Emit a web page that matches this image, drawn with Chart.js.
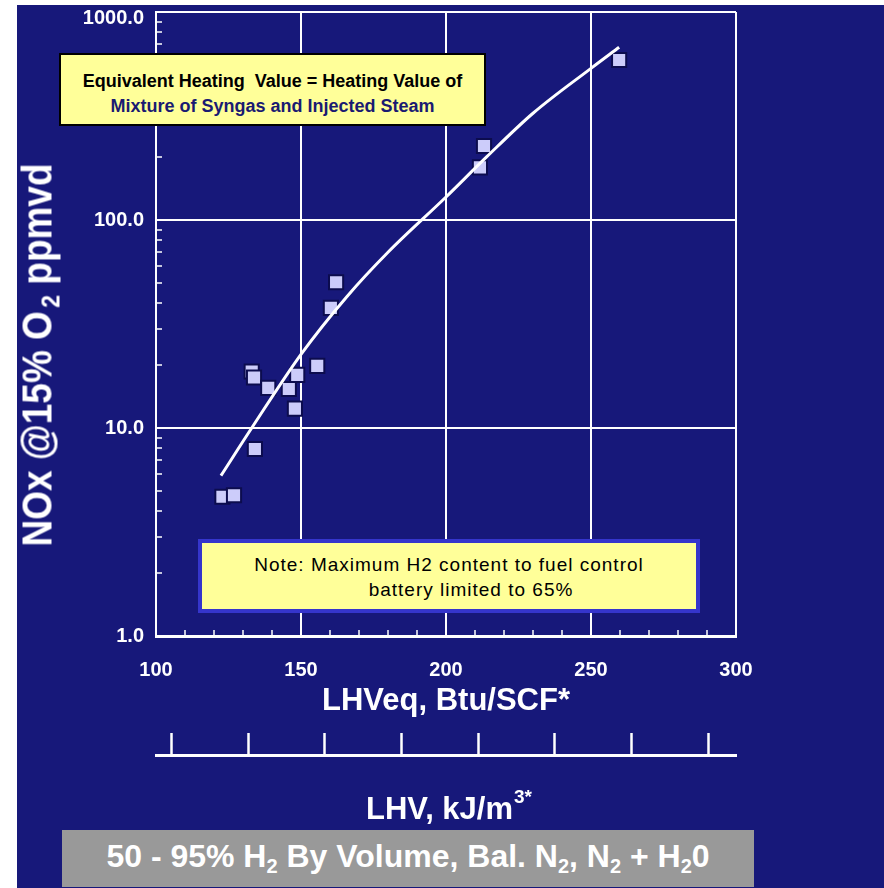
<!DOCTYPE html>
<html>
<head>
<meta charset="utf-8">
<script src="https://cdn.jsdelivr.net/npm/chart.js@4"></script>
<style>
body { margin: 0; background: #fff; font-family: "Liberation Sans", Arial, sans-serif; }
#page { position: relative; width: 884px; height: 888px; overflow: hidden; }
#bg { position: absolute; left: 17px; top: 5px; right: 0; bottom: 0; background: #17187a; }
#c { position: absolute; left: 0; top: 0; }
.box { position: absolute; box-sizing: border-box; text-align: center; white-space: nowrap; }
#box1 { left: 59px; top: 53px; width: 427px; height: 73px; background: #ffff99; border: 2px solid #000;
        font-weight: bold; font-size: 18px; line-height: 25px; padding-top: 14px; color: #000; }
#box1 .l2 { color: #1a1a72; }
#box2 { left: 198px; top: 539px; width: 502px; height: 74px; background: #ffff99; border: 4px solid #3535cc;
        font-size: 19px; letter-spacing: 1px; line-height: 25px; padding-top: 9px; color: #000; }
#box2 .l2 { position: relative; left: 22px; }
#ytitle { position: absolute; left: 44px; top: 355px; font-size: 42px; line-height: 42px; font-weight: bold;
          color: #fff; white-space: nowrap; transform: translate(-50%, -50%) rotate(-90deg) scaleX(0.88); }
#ytitle sub { font-size: 26px; vertical-align: -8px; margin-left: 4px; }
#x2title { position: absolute; left: 449px; top: 786px; font-size: 31px; line-height: 31px; font-weight: bold;
           color: #fff; white-space: nowrap; transform: translateX(-50%); }
#x2title sup { font-size: 19px; position: relative; top: -5px; margin-left: 1px; }
#banner { position: absolute; left: 62px; top: 830px; width: 692px; height: 57px; background: #999999;
          color: #fff; font-weight: bold; font-size: 32px; line-height: 53px; text-align: center; white-space: nowrap; }
#banner sub { font-size: 20px; vertical-align: -6px; }
</style>
</head>
<body>
<div id="page">
  <div id="bg"></div>
  <canvas id="c" width="884" height="888"></canvas>
  <div id="ytitle">NOx @15% O<sub>2</sub> ppmvd</div>
  <div class="box" id="box1">Equivalent Heating&nbsp; Value = Heating Value of<br><span class="l2">Mixture of Syngas and Injected Steam</span></div>
  <div class="box" id="box2">Note: Maximum H2 content to fuel control<br><span class="l2">battery limited to 65%</span></div>
  <div id="x2title">LHV, kJ/m<sup>3*</sup></div>
  <div id="banner">50 - 95% H<sub>2</sub> By Volume, Bal. N<sub>2</sub>, N<sub>2</sub> + H<sub>2</sub>0</div>
</div>
<script>
// measured points, LHVeq (Btu/SCF) vs NOx ppmvd
var lhvX = [122.9, 126.9, 134.1, 133.0, 133.8, 138.7, 145.8, 147.9, 148.7, 155.6, 160.3, 162.1, 211.7, 213.1, 259.7];
var noxY = [4.67, 4.75, 7.93, 18.7, 17.5, 15.6, 15.4, 12.4, 18.0, 19.9, 37.8, 50.2, 179, 227, 588];

// trend curve
var fitX = [122.4, 133, 150, 165.8, 180, 200, 214, 230, 250, 259.7];
var fitY = [5.9, 10, 22.6, 42.8, 70, 129, 201, 326, 536, 677];

var yLabelTicks = [1, 10, 100, 1000];
var xLabelTicks = [100, 150, 200, 250, 300];
var kjTicks = [4000, 5000, 6000, 7000, 8000, 9000, 10000, 11000];
var kjRange = [3800, 11360];

Chart.defaults.font.family = "'Liberation Sans', Arial, sans-serif";
var white = '#ffffff';
var clear = 'rgba(0,0,0,0)';

var ctx = document.getElementById('c').getContext('2d');
var chart = new Chart(ctx, {
  type: 'scatter',
  data: {
    datasets: [{
      label: 'fit',
      data: fitX.map(function (x, i) { return {x: x, y: fitY[i]}; }),
      showLine: true,
      borderColor: white,
      borderWidth: 3,
      pointRadius: 0,
      cubicInterpolationMode: 'monotone'
    }, {
      label: 'NOx',
      data: lhvX.map(function (x, i) { return {x: x, y: noxY[i]}; }),
      pointStyle: 'rect',
      pointRadius: 10,
      backgroundColor: '#ccccfa',
      borderColor: '#0c0c4e',
      borderWidth: 2
    }]
  },
  options: {
    responsive: false,
    animation: false,
    devicePixelRatio: 1,
    layout: { padding: { left: 76, top: 12, right: 148, bottom: 128 } },
    plugins: { legend: { display: false }, tooltip: { enabled: false } },
    scales: {
      x: {
        type: 'linear', position: 'bottom', min: 100, max: 300,
        afterFit: function (s) { s.height = 119; },
        border: { display: true, color: white, width: 3 },
        grid: {
          color: function (c) { return c.tick && xLabelTicks.includes(c.tick.value) ? white : clear; },
          lineWidth: 2, tickColor: white, tickWidth: 1.5, tickLength: -6
        },
        ticks: {
          stepSize: 10, autoSkip: false, maxRotation: 0, minRotation: 0, padding: 28,
          color: white, font: { size: 20, weight: 'bold' },
          callback: function (v) { return xLabelTicks.includes(v) ? String(v) : ''; }
        },
        title: {
          display: true, text: 'LHVeq, Btu/SCF*', color: white,
          font: { size: 31, weight: 'bold' }, padding: { top: 0, bottom: 35 }
        }
      },
      x2: {
        type: 'linear', axis: 'x', position: 'bottom', weight: 1,
        min: kjRange[0], max: kjRange[1],
        afterFit: function (s) { s.height = 5; },
        afterBuildTicks: function (s) { s.ticks = kjTicks.map(function (v) { return {value: v}; }); },
        border: { display: true, color: white, width: 3 },
        grid: { drawOnChartArea: false, color: white, tickColor: white, tickWidth: 2.5, tickLength: -22 },
        ticks: { display: false }
      },
      y: {
        type: 'logarithmic', position: 'left', min: 1, max: 1000,
        afterFit: function (s) { s.width = 80; s.paddingTop = 0; },
        afterBuildTicks: function (s) {
          s.ticks = s.ticks.filter(function (t) {
            var e = Math.pow(10, Math.floor(Math.log10(t.value) + 1e-9));
            var m = t.value / e;
            return Math.abs(m - Math.round(m)) < 1e-6;
          });
        },
        border: { display: true, color: white, width: 2 },
        grid: {
          color: function (c) { return c.tick && yLabelTicks.includes(c.tick.value) ? white : clear; },
          lineWidth: 2, tickColor: white, tickWidth: 1.5, tickLength: -6
        },
        ticks: {
          autoSkip: false, padding: 18, color: white,
          // top label sits a little below the top line, as in the original
          font: function (c) {
            var top = c.tick && c.tick.value === 1000;
            return { size: 20, weight: 'bold', lineHeight: top ? 0.6 : 1.2 };
          },
          callback: function (v) {
            if (!yLabelTicks.includes(v)) return '';
            return v === 1000 ? ['', v.toFixed(1)] : v.toFixed(1);
          }
        }
      }
    }
  }
});
</script>
</body>
</html>
